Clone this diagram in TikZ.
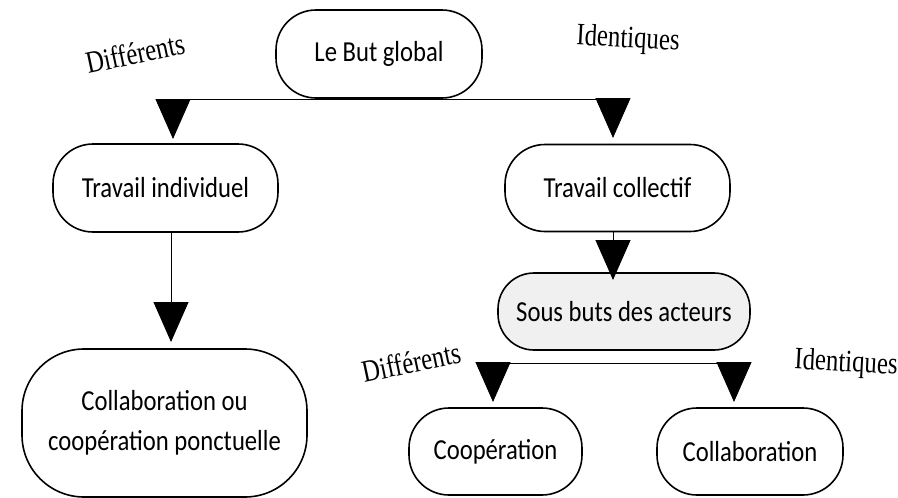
\documentclass[tikz,border=0pt]{standalone}
\usepackage{fontspec}
\usetikzlibrary{arrows.meta}
\newfontfamily\boxfont[FakeStretch=0.85]{Carlito}
\newfontfamily\tagfont[FakeStretch=0.8,Ligatures=NoCommon]{Liberation Serif}
\begin{document}
\begin{tikzpicture}[x=1pt,y=-1pt,
  pill/.style={draw=black,line width=1.6pt,rounded corners=#1,align=center,
    inner sep=0pt,font=\boxfont\fontsize{29}{40}\selectfont},
  pill/.default=40pt,
  wire/.style={line width=1pt},
  drop/.style={wire,-{Triangle[width=35pt,length=40pt]}},
  tag/.style={font=\tagfont\fontsize{31}{34}\selectfont,inner sep=0pt}]
\useasboundingbox (0,0) rectangle (898,498);

% boxes
\node[pill,minimum width=206pt,minimum height=88pt] (goal) at (379,54) {Le But global};
\node[pill,minimum width=225pt,minimum height=88pt] (indiv) at (165.5,188) {Travail individuel};
\node[pill,minimum width=225pt,minimum height=87pt] (collect) at (617.5,188) {Travail collectif};
\node[pill=36pt,fill=black!6,minimum width=252pt,minimum height=77pt] (sub) at (624,311.5) {Sous buts des acteurs};
\node[pill=62pt,minimum width=285pt,minimum height=148pt] (punct) at (164.5,423) {Collaboration ou\\coopération ponctuelle};
\node[pill,minimum width=173pt,minimum height=87pt] (coop) at (495.5,451.5) {Coopération};
\node[pill,minimum width=186pt,minimum height=87pt] (collab) at (750,451.5) {Collaboration};

% junctions of the branch lines
\coordinate (jl) at (173,99);
\coordinate (jr) at (613,99);
\coordinate (kl) at (493,363);
\coordinate (kr) at (734,363);

% top split
\draw[wire] (jl) -- (jr);
\draw[drop] (jl) -- (jl |- 0,139);
\draw[drop] (jr) -- (jr |- 0,138);

% left chain
\draw[drop] (indiv.south -| 171,0) -- (171,342);

% right chain
\draw[drop] (collect.south -| 613,0) -- (613,280);

% lower split
\draw[wire] (kl) -- (kr);
\draw[drop] (kl) -- (kl |- 0,402);
\draw[drop] (kr) -- (kr |- 0,402);

% branch labels
\node[tag,rotate=12] (d1) at (135,53) {Différents};
\node[tag,rotate=-3] (i1) at (628,40) {Identiques};
\node[tag,rotate=12] (d2) at (411,362) {Différents};
\node[tag,rotate=-3] (i2) at (846,364) {Identiques};
\end{tikzpicture}
\end{document}
